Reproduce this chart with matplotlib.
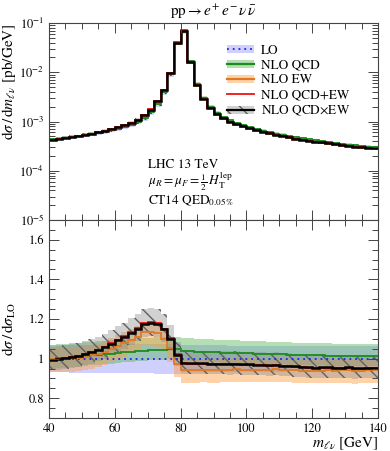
import numpy as np
import matplotlib
matplotlib.use('Agg')
import matplotlib.pyplot as plt
from matplotlib.patches import Patch
from matplotlib.lines import Line2D
from matplotlib.ticker import MultipleLocator, FuncFormatter, LogLocator, NullFormatter, FixedLocator

plt.rcParams['font.family'] = ['STIXGeneral', 'DejaVu Sans']
plt.rcParams['mathtext.fontset'] = 'stix'
plt.rcParams['hatch.linewidth'] = 1.0

# ---------------- data ----------------
bin_edges = np.arange(40, 141, 2)

lo_xsec = [0.000432, 0.000451, 0.000469, 0.000486, 0.000502, 0.000528, 0.000552, 0.000585, 0.000615, 0.000651,
           0.000695, 0.000757, 0.000832, 0.000948, 0.00113, 0.00148, 0.00217, 0.00375, 0.00882, 0.0392,
           0.0695, 0.01638, 0.00564, 0.00297, 0.00195, 0.001468, 0.00120, 0.001025, 0.000915, 0.000822,
           0.000752, 0.000691, 0.000640, 0.000600, 0.000558, 0.000528, 0.000497, 0.000468, 0.000449, 0.000428,
           0.000408, 0.000392, 0.000376, 0.000362, 0.000346, 0.000335, 0.000326, 0.000315, 0.000304, 0.000299]

lo_lo = [0.931, 0.930, 0.930, 0.929, 0.929, 0.928, 0.928, 0.927, 0.927, 0.926,
         0.926, 0.926, 0.925, 0.925, 0.925, 0.925, 0.924, 0.924, 0.924, 0.924,
         0.930, 0.930, 0.931, 0.931, 0.931, 0.932, 0.932, 0.932, 0.933, 0.933,
         0.933, 0.933, 0.934, 0.934, 0.934, 0.934, 0.935, 0.935, 0.935, 0.935,
         0.935, 0.935, 0.936, 0.936, 0.936, 0.936, 0.936, 0.936, 0.937, 0.937]
lo_hi = [1.068, 1.068, 1.069, 1.069, 1.069, 1.070, 1.070, 1.070, 1.071, 1.071,
         1.071, 1.072, 1.072, 1.072, 1.072, 1.073, 1.073, 1.073, 1.073, 1.073,
         1.068, 1.068, 1.068, 1.067, 1.067, 1.067, 1.067, 1.066, 1.066, 1.066,
         1.066, 1.065, 1.065, 1.065, 1.065, 1.065, 1.064, 1.064, 1.064, 1.064,
         1.064, 1.064, 1.063, 1.063, 1.063, 1.063, 1.063, 1.063, 1.062, 1.062]

qcd_ratio = [0.998, 1.001, 1.004, 1.007, 1.010, 1.013, 1.016, 1.019, 1.022, 1.025,
             1.028, 1.031, 1.034, 1.037, 1.039, 1.041, 1.043, 1.045, 1.046, 1.046,
             1.038, 1.036, 1.034, 1.033, 1.032, 1.031, 1.030, 1.029, 1.028, 1.027,
             1.026, 1.025, 1.024, 1.023, 1.022, 1.021, 1.020, 1.019, 1.018, 1.017,
             1.016, 1.016, 1.015, 1.014, 1.014, 1.013, 1.013, 1.012, 1.012, 1.011]
qcd_hi = [1.070, 1.072, 1.075, 1.077, 1.079, 1.082, 1.084, 1.087, 1.089, 1.092,
          1.094, 1.097, 1.099, 1.102, 1.104, 1.106, 1.108, 1.110, 1.111, 1.111,
          1.104, 1.102, 1.100, 1.098, 1.097, 1.096, 1.094, 1.093, 1.092, 1.090,
          1.089, 1.088, 1.087, 1.086, 1.084, 1.083, 1.082, 1.081, 1.080, 1.079,
          1.078, 1.078, 1.077, 1.076, 1.075, 1.074, 1.074, 1.073, 1.073, 1.072]
qcd_lo = [0.948, 0.951, 0.954, 0.957, 0.960, 0.963, 0.966, 0.969, 0.972, 0.975,
          0.978, 0.981, 0.984, 0.987, 0.989, 0.991, 0.993, 0.995, 0.996, 0.996,
          0.988, 0.986, 0.984, 0.983, 0.982, 0.981, 0.980, 0.979, 0.978, 0.977,
          0.976, 0.975, 0.974, 0.973, 0.972, 0.971, 0.970, 0.969, 0.968, 0.967,
          0.966, 0.966, 0.965, 0.964, 0.964, 0.963, 0.963, 0.962, 0.962, 0.961]

ew_ratio = [0.997, 0.997, 0.999, 1.001, 1.005, 1.010, 1.016, 1.024, 1.035, 1.049,
            1.063, 1.077, 1.093, 1.109, 1.132, 1.134, 1.128, 1.100, 1.052, 0.975,
            0.940, 0.941, 0.942, 0.943, 0.942, 0.942, 0.944, 0.943, 0.945, 0.944,
            0.944, 0.944, 0.943, 0.943, 0.945, 0.943, 0.943, 0.941, 0.939, 0.939,
            0.938, 0.939, 0.941, 0.939, 0.940, 0.942, 0.937, 0.939, 0.941, 0.941]
ew_hi = [1.052, 1.052, 1.054, 1.056, 1.060, 1.065, 1.071, 1.079, 1.090, 1.104,
         1.118, 1.132, 1.148, 1.164, 1.187, 1.189, 1.183, 1.155, 1.107, 1.030,
         0.997, 0.998, 0.999, 1.000, 0.999, 0.999, 1.001, 1.000, 1.002, 1.001,
         1.001, 1.001, 1.000, 1.000, 1.002, 1.000, 1.000, 0.998, 0.996, 0.996,
         0.995, 0.996, 0.998, 0.996, 0.997, 0.999, 0.994, 0.996, 0.998, 0.998]
ew_lo = [0.930, 0.930, 0.932, 0.934, 0.938, 0.943, 0.949, 0.957, 0.968, 0.982,
         0.996, 1.010, 1.026, 1.042, 1.065, 1.067, 1.061, 1.033, 0.985, 0.908,
         0.877, 0.878, 0.879, 0.880, 0.879, 0.879, 0.881, 0.880, 0.882, 0.881,
         0.881, 0.881, 0.880, 0.880, 0.882, 0.880, 0.880, 0.878, 0.876, 0.876,
         0.875, 0.876, 0.878, 0.876, 0.877, 0.879, 0.874, 0.876, 0.878, 0.878]

add_ratio = [0.995, 0.998, 1.003, 1.008, 1.015, 1.023, 1.032, 1.043, 1.058, 1.077,
             1.095, 1.113, 1.134, 1.155, 1.181, 1.185, 1.180, 1.152, 1.102, 1.021,
             0.976, 0.975, 0.974, 0.974, 0.973, 0.972, 0.973, 0.971, 0.972, 0.970,
             0.969, 0.968, 0.966, 0.965, 0.966, 0.963, 0.962, 0.959, 0.956, 0.955,
             0.953, 0.954, 0.955, 0.952, 0.953, 0.954, 0.949, 0.950, 0.952, 0.951]

mult_ratio = [0.995, 0.998, 1.003, 1.008, 1.015, 1.023, 1.032, 1.043, 1.057, 1.075,
              1.093, 1.110, 1.130, 1.150, 1.176, 1.180, 1.176, 1.148, 1.100, 1.020,
              0.978, 0.977, 0.976, 0.976, 0.975, 0.974, 0.975, 0.973, 0.974, 0.972,
              0.971, 0.970, 0.968, 0.967, 0.968, 0.965, 0.964, 0.961, 0.958, 0.957,
              0.955, 0.956, 0.957, 0.954, 0.955, 0.956, 0.951, 0.952, 0.954, 0.953]
mult_hi = [1.060, 1.063, 1.068, 1.074, 1.081, 1.089, 1.099, 1.111, 1.126, 1.145,
           1.164, 1.182, 1.203, 1.225, 1.252, 1.257, 1.252, 1.223, 1.172, 1.086,
           1.042, 1.041, 1.039, 1.039, 1.038, 1.037, 1.038, 1.036, 1.037, 1.035,
           1.034, 1.033, 1.031, 1.030, 1.031, 1.028, 1.027, 1.023, 1.020, 1.019,
           1.017, 1.018, 1.019, 1.016, 1.017, 1.018, 1.013, 1.014, 1.016, 1.015]
mult_lo = [0.940, 0.943, 0.948, 0.953, 0.959, 0.967, 0.975, 0.986, 0.999, 1.016,
           1.033, 1.049, 1.068, 1.087, 1.111, 1.115, 1.111, 1.085, 1.040, 0.964,
           0.924, 0.923, 0.922, 0.922, 0.921, 0.920, 0.921, 0.919, 0.920, 0.919,
           0.918, 0.917, 0.915, 0.914, 0.915, 0.912, 0.911, 0.908, 0.905, 0.904,
           0.902, 0.903, 0.904, 0.902, 0.902, 0.903, 0.899, 0.900, 0.902, 0.901]

# ---------------- styles ----------------
c_lo_line, c_lo_band = '#2222ee', (0.35, 0.35, 1.0, 0.28)
c_qcd_line, c_qcd_band = '#1f8a1f', (0.30, 0.70, 0.30, 0.42)
c_ew_line, c_ew_band = '#e07a22', (1.0, 0.62, 0.25, 0.45)
c_add_line = '#ee1111'
c_mult_line, c_mult_band = '#000000', (0.55, 0.55, 0.55, 0.40)
hatch_col = '#606060'
hatch_pat = '\\\\'

fig = plt.figure(figsize=(3.90, 4.51), dpi=100)
ax1 = fig.add_axes([49/390, 1-220/451, 329/390, 197/451])
ax2 = fig.add_axes([49/390, 1-418/451, 329/390, 198/451])

lo = np.array(lo_xsec)
series = [
    (np.array(lo_lo), np.array(lo_hi), c_lo_band, None),
    (np.array(qcd_lo), np.array(qcd_hi), c_qcd_band, None),
    (np.array(ew_lo), np.array(ew_hi), c_ew_band, None),
    (np.array(mult_lo), np.array(mult_hi), c_mult_band, hatch_pat),
]
lines = [
    (np.ones(len(lo)), c_lo_line, 1.3, (0, (1, 2.2))),
    (np.array(qcd_ratio), c_qcd_line, 1.3, '-'),
    (np.array(ew_ratio), c_ew_line, 1.3, '-'),
    (np.array(add_ratio), c_add_line, 1.3, '-'),
    (np.array(mult_ratio), c_mult_line, 1.8, '-'),
]

for ax, scale in ((ax1, lo), (ax2, np.ones(len(lo)))):
    for low, high, col, hatch in series:
        if hatch:
            ax.stairs(high * scale, bin_edges, baseline=low * scale, fill=True,
                      facecolor=col, edgecolor=hatch_col, hatch=hatch, linewidth=0)
        else:
            ax.stairs(high * scale, bin_edges, baseline=low * scale, fill=True,
                      facecolor=col, edgecolor='none', linewidth=0)
    for r, col, lw, ls in lines:
        ax.stairs(r * scale, bin_edges, color=col, linewidth=lw, linestyle=ls, baseline=None)

# ---------------- axes formatting ----------------
spine_col = '#444444'
for ax in (ax1, ax2):
    ax.set_xlim(40, 140)
    ax.xaxis.set_major_locator(MultipleLocator(20))
    ax.xaxis.set_minor_locator(MultipleLocator(5))
    ax.tick_params(which='both', direction='in', top=True, right=True, color=spine_col,
                   labelsize=9, width=0.7)
    ax.tick_params(which='major', length=7)
    ax.tick_params(which='minor', length=4)
    for s in ax.spines.values():
        s.set_color(spine_col)
        s.set_linewidth(0.8)

ax1.set_yscale('log')
ax1.set_ylim(1e-5, 1e-1)
ax1.yaxis.set_major_locator(LogLocator(base=10, numticks=10))
ax1.yaxis.set_minor_locator(LogLocator(base=10, subs=np.arange(2, 10), numticks=20))
ax1.yaxis.set_minor_formatter(NullFormatter())
ax1.tick_params(labelbottom=False)
ax1.set_ylabel(r'$\mathrm{d}\sigma\,/\,\mathrm{d}m_{\ell\nu}$ [pb/GeV]', fontsize=11, loc='top')
ax1.yaxis.set_label_coords(-0.094, 1.0)
ax1.set_title(r'$\mathrm{pp} \rightarrow e^{+}\,e^{-}\,\nu\,\bar{\nu}$', fontsize=11, pad=5)

ax2.set_ylim(0.7, 1.7)
ax2.yaxis.set_major_locator(FixedLocator([0.8, 1.0, 1.2, 1.4, 1.6]))
ax2.yaxis.set_minor_locator(MultipleLocator(0.05))
ax2.yaxis.set_major_formatter(FuncFormatter(lambda v, p: '%g' % round(v, 2)))
ax2.set_ylabel(r'$\mathrm{d}\sigma\,/\,\mathrm{d}\sigma_{\mathrm{LO}}$', fontsize=11)
ax2.yaxis.set_label_coords(-0.094, 0.45)
ax2.set_xlabel(r'$m_{\ell\nu}$ [GeV]', fontsize=11, loc='right', labelpad=1)

# text block
ax1.text(0.30, 0.278, 'LHC 13 TeV', transform=ax1.transAxes, fontsize=9.5, va='center')
ax1.text(0.30, 0.192, r'$\mu_R = \mu_F = \frac{1}{2}\,H_{\mathrm{T}}^{\mathrm{lep}}$',
         transform=ax1.transAxes, fontsize=9.5, va='center')
ax1.text(0.30, 0.100, r'CT14 QED$_{0.05\%}$', transform=ax1.transAxes, fontsize=9.5, va='center')

# legend
h_lo = (Patch(facecolor=c_lo_band, edgecolor='none'), Line2D([], [], color=c_lo_line, lw=1.3, ls=(0, (1, 2.2))))
h_qcd = (Patch(facecolor=c_qcd_band, edgecolor='none'), Line2D([], [], color=c_qcd_line, lw=1.6))
h_ew = (Patch(facecolor=c_ew_band, edgecolor='none'), Line2D([], [], color=c_ew_line, lw=1.6))
h_add = Line2D([], [], color=c_add_line, lw=1.3)
h_mult = (Patch(facecolor=c_mult_band, edgecolor=hatch_col, hatch=hatch_pat, linewidth=0),
          Line2D([], [], color=c_mult_line, lw=1.6))
ax1.legend([h_lo, h_qcd, h_ew, h_add, h_mult],
           ['LO', 'NLO QCD', 'NLO EW', 'NLO QCD+EW', r'NLO QCD$\times$EW'],
           loc='upper left', bbox_to_anchor=(0.54, 0.888), frameon=False, fontsize=9.5,
           handlelength=2.1, handleheight=0.6, handletextpad=0.5, labelspacing=0.22,
           borderpad=0, borderaxespad=0)

fig.savefig('out.png', dpi=100)
